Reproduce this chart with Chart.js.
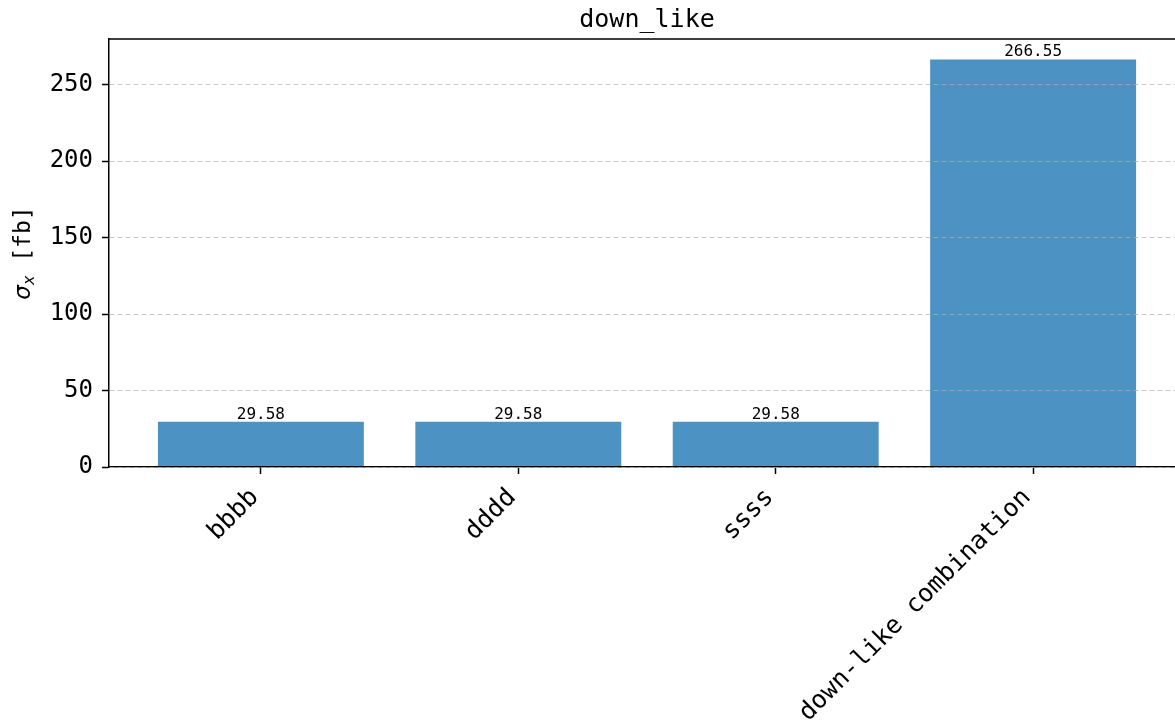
<!DOCTYPE html>
<html>
<head>
<meta charset="utf-8">
<script src="https://cdn.jsdelivr.net/npm/chart.js@4/dist/chart.umd.min.js"></script>
<style>
  html, body { margin: 0; padding: 0; background: #fff; overflow: hidden; }
  #wrap { width: 1190px; height: 721px; }
</style>
</head>
<body>
<div id="wrap"><canvas id="myChart"></canvas></div>
<script>
/* DATA */
const categories = ['bbbb', 'dddd', 'ssss', 'down-like combination'];
const xsecValues = [29.58, 29.58, 29.58, 266.55];
const yTicks = [0, 50, 100, 150, 200, 250];
const chartTitle = 'down_like';

const FONT = "'DejaVu Sans Mono', monospace";

/* top + right spine, like a matplotlib axes box */
const frame = {
  id: 'frame',
  afterDraw(chart) {
    const a = chart.chartArea;
    const ctx = chart.ctx;
    ctx.save();
    ctx.strokeStyle = '#000';
    ctx.lineWidth = 1.5;
    ctx.beginPath();
    ctx.moveTo(a.left, a.top);
    ctx.lineTo(a.right, a.top);
    ctx.lineTo(a.right, a.bottom);
    ctx.stroke();
    ctx.restore();
  }
};

/* title centred over the axes, not the canvas */
const axesTitle = {
  id: 'axesTitle',
  afterDraw(chart) {
    const a = chart.chartArea;
    const ctx = chart.ctx;
    ctx.save();
    ctx.font = "25px 'DejaVu Sans Mono'";
    ctx.fillStyle = '#000';
    ctx.textAlign = 'center';
    ctx.textBaseline = 'alphabetic';
    ctx.fillText(chartTitle, (a.left + a.right) / 2, a.top - 12);
    ctx.restore();
  }
};

/* y label: sigma with subscript x, then [fb] */
const yAxisLabel = {
  id: 'yAxisLabel',
  afterDraw(chart) {
    const a = chart.chartArea;
    const ctx = chart.ctx;
    const parts = [
      { t: 'σ', font: "oblique 23px 'DejaVu Sans'", dy: 0 },
      { t: 'x', font: "oblique 16px 'DejaVu Sans'", dy: 4 },
      { t: ' [fb]', font: "23px 'DejaVu Sans Mono'", dy: 0 },
    ];
    ctx.save();
    let total = 0;
    parts.forEach(function(p) {
      ctx.font = p.font;
      p.w = ctx.measureText(p.t).width;
      total += p.w;
    });
    ctx.translate(30, (a.top + a.bottom) / 2);
    ctx.rotate(-Math.PI / 2);
    ctx.fillStyle = '#000';
    ctx.textBaseline = 'alphabetic';
    ctx.textAlign = 'left';
    let x = -total / 2;
    parts.forEach(function(p) {
      ctx.font = p.font;
      ctx.fillText(p.t, x, p.dy);
      x += p.w;
    });
    ctx.restore();
  }
};

/* value written above each bar */
const barLabels = {
  id: 'barLabels',
  afterDatasetsDraw(chart) {
    const ctx = chart.ctx;
    const meta = chart.getDatasetMeta(0);
    ctx.save();
    ctx.font = "16px 'DejaVu Sans Mono'";
    ctx.fillStyle = '#000';
    ctx.textAlign = 'center';
    ctx.textBaseline = 'alphabetic';
    meta.data.forEach(function(bar, i) {
      ctx.fillText(xsecValues[i].toFixed(2), bar.x, bar.y - 3);
    });
    ctx.restore();
  }
};

const ctx = document.getElementById('myChart').getContext('2d');
// eslint-disable-next-line no-undef
const chart = new Chart(ctx, {
  type: 'bar',
  data: {
    datasets: [{
      label: chartTitle,
      data: xsecValues.map((v, i) => ({ x: i, y: v })),
      backgroundColor: 'rgba(31,119,180,0.8)',
      borderWidth: 0,
      barPercentage: 0.8,
      categoryPercentage: 1.0,
    }]
  },
  options: {
    responsive: true,
    maintainAspectRatio: false,
    animation: false,
    devicePixelRatio: 1,
    layout: { padding: { left: 0, right: 5, top: 39, bottom: 0 } },
    plugins: {
      legend: { display: false },
      tooltip: { enabled: false },
      title: { display: false },
    },
    scales: {
      x: {
        type: 'linear',
        min: -0.59,
        max: 3.59,
        offset: false,
        afterBuildTicks: s => { s.ticks = categories.map((c, i) => ({ value: i })); },
        afterFit: s => { s.height = 254; },
        ticks: {
          autoSkip: false,
          maxRotation: 45,
          minRotation: 45,
          padding: 9,
          labelOffset: -6,
          color: '#000',
          font: { family: FONT, size: 25 },
          callback: v => categories[v],
        },
        grid: {
          offset: false,
          drawOnChartArea: false,
          drawTicks: true,
          tickLength: 7,
          tickWidth: 1.5,
          tickColor: '#000',
        },
        border: { display: true, color: '#000', width: 1.5, z: 1 },
      },
      y: {
        min: 0,
        max: 279.9,
        afterBuildTicks: s => { s.ticks = yTicks.map(v => ({ value: v })); },
        afterFit: s => { s.width = 109; },
        ticks: {
          padding: 9,
          color: '#000',
          font: { family: FONT, size: 24 },
        },
        grid: {
          color: 'rgba(176,176,176,0.7)',
          lineWidth: 1,
          tickLength: 7,
          tickWidth: 1.5,
          tickColor: '#000',
          tickBorderDash: [],
          z: 1,
        },
        border: { display: true, color: '#000', width: 1.5, dash: [5, 3], z: 1 },
        title: { display: false },
      },
    },
  },
  plugins: [frame, axesTitle, yAxisLabel, barLabels],
});

console.log(chart);
</script>
</body>
</html>
